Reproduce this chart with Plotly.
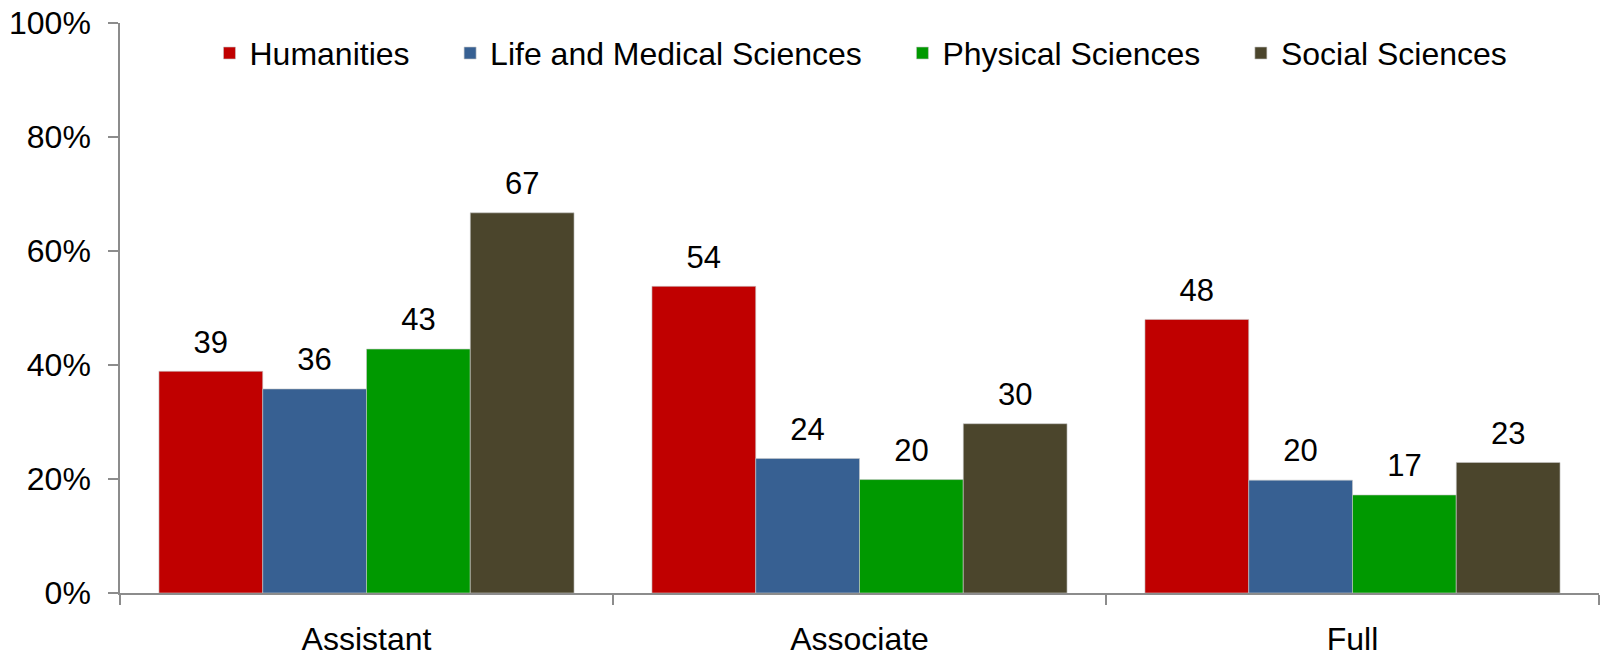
import plotly.graph_objects as go

categories = ["Assistant", "Associate", "Full"]
series_names = ["Humanities", "Life and Medical Sciences", "Physical Sciences", "Social Sciences"]
humanities = [38.9, 53.8, 48.0]
life_medical = [35.8, 23.6, 19.8]
physical = [42.8, 19.9, 17.2]
social = [66.7, 29.7, 22.9]
y_ticks = [0, 20, 40, 60, 80, 100]
y_tick_labels = ["0%", "20%", "40%", "60%", "80%", "100%"]

colors = ["#C00000", "#376092", "#009900", "#4B452C"]
series_values = [humanities, life_medical, physical, social]

FONT = "Liberation Sans, Arial, sans-serif"
PAD = "\u00a0" * 4

fig = go.Figure()
for i, (name, vals) in enumerate(zip(series_names, series_values)):
    label = name + (PAD if i < len(series_names) - 1 else "")
    fig.add_trace(go.Bar(
        x=categories, y=vals, name=label, offsetgroup=str(i),
        marker=dict(color=colors[i], line=dict(color="rgba(200,200,200,0.6)", width=1)),
        hoverinfo="skip",
    ))
for i, vals in enumerate(series_values):
    fig.add_trace(go.Scatter(
        x=categories, y=vals, mode="markers+text", offsetgroup=str(i),
        marker=dict(size=16, color="rgba(0,0,0,0)"),
        texttemplate="%{y:.0f}", textposition="top center",
        textfont=dict(family=FONT, size=31, color="black"),
        cliponaxis=False, showlegend=False, hoverinfo="skip",
    ))

fig.update_layout(
    width=1601, height=655,
    template="none",
    barmode="group", bargap=0.158, bargroupgap=0,
    scattermode="group", scattergap=0.158,
    paper_bgcolor="white", plot_bgcolor="white",
    margin=dict(l=120, r=2, t=23, b=62, autoexpand=False),
    font=dict(family=FONT, size=32, color="black"),
    showlegend=True,
    legend=dict(orientation="h", x=0.501, xanchor="center", y=0.947, yanchor="middle",
                font=dict(family=FONT, size=32, color="black"),
                bgcolor="rgba(0,0,0,0)", itemwidth=30, traceorder="normal"),
    xaxis=dict(showline=True, linecolor="#8C8C8C", linewidth=1.5,
               ticks="outside", tickson="boundaries", ticklen=10, tickcolor="#8C8C8C", tickwidth=1.5,
               tickfont=dict(family=FONT, size=32, color="black"),
               showgrid=False, zeroline=False, automargin=False, ticklabelstandoff=17),
    yaxis=dict(range=[0, 100], tickvals=y_ticks, ticktext=y_tick_labels,
               showline=True, linecolor="#8C8C8C", linewidth=1.5,
               ticks="outside", ticklen=10, tickcolor="#8C8C8C", tickwidth=1.5,
               tickfont=dict(family=FONT, size=32, color="black"),
               showgrid=False, zeroline=False, automargin=False, ticklabelstandoff=11),
)

fig.write_html("out.html", config={"displayModeBar": False},
               post_script="document.body.style.margin='0';document.body.style.overflow='hidden';")
